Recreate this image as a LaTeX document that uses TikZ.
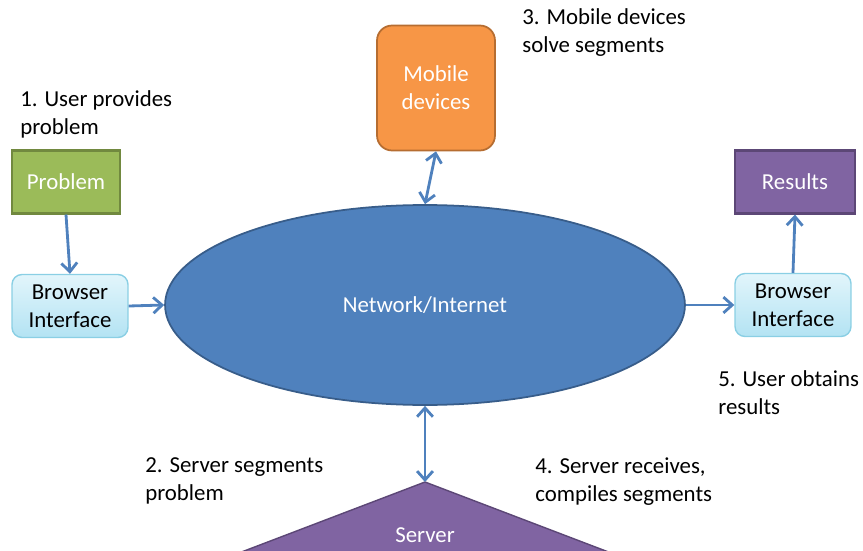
\documentclass[tikz,border=0pt]{standalone}
\usepackage{fontspec}
\setmainfont{Carlito}
\usetikzlibrary{calc}
\usetikzlibrary{arrows.meta}
\usetikzlibrary{shapes.geometric}

\definecolor{probgreen}{HTML}{9BBB59}
\definecolor{probgreenline}{HTML}{71893F}
\definecolor{moborange}{HTML}{F79646}
\definecolor{moborangeline}{HTML}{B66D31}
\definecolor{respurple}{HTML}{8064A2}
\definecolor{respurpleline}{HTML}{5C4776}
\definecolor{netblue}{HTML}{4F81BD}
\definecolor{netblueline}{HTML}{385D8A}
\definecolor{browsertop}{HTML}{E2F5FB}
\definecolor{browserbot}{HTML}{B3E3F3}
\definecolor{browserline}{HTML}{8ACFE4}

\begin{document}
\begin{tikzpicture}[x=0.02cm,y=-0.02cm,
  font=\fontsize{13}{16}\selectfont,
  link/.style={draw=netblue,line width=1.6pt,-{Straight Barb[length=5pt,width=9pt]}},
  twolink/.style={link,{Straight Barb[length=5pt,width=9pt]}-{Straight Barb[length=5pt,width=9pt]}},
  browser/.style={draw=browserline,line width=0.8pt,rounded corners=0.2cm,
    top color=browsertop,bottom color=browserbot,
    minimum width=2.32cm,minimum height=1.26cm,align=center,inner sep=0pt},
  note/.style={anchor=north west,align=left,inner sep=0pt}]
\useasboundingbox (0,0) rectangle (863,551);
\clip (0,0) rectangle (863,551);

% Boxes
\node[draw=probgreenline,fill=probgreen,line width=1.2pt,text=white,
  minimum width=2.16cm,minimum height=1.26cm] (problem) at (66,182) {Problem};
\node[browser] (browserL) at (70,306) {Browser\\Interface};
\node[ellipse,draw=netblueline,fill=netblue,line width=1pt,text=white,
  minimum width=10.4cm,minimum height=4cm,inner sep=0pt] (net) at (425,305) {Network/Internet};
\node[draw=moborangeline,fill=moborange,line width=1pt,rounded corners=0.3cm,text=white,
  minimum width=2.36cm,minimum height=2.5cm,align=center] (mobile) at (436,88) {Mobile\\devices};
\node[draw=respurpleline,fill=respurple,line width=1.2pt,text=white,
  minimum width=2.4cm,minimum height=1.26cm] (results) at (795,182) {Results};
\node[browser] (browserR) at (793,305) {Browser\\Interface};

% Server
\fill[respurple,draw=respurpleline,line width=0.8pt] (425,482) -- (155,585) -- (695,585) -- cycle;
\coordinate (serverTop) at (425,482);
\node[text=white] (server) at (425,535) {Server};

% Arrows
\draw[link] (problem.south) -- (browserL.north);
\draw[link] (browserL.east) -- (net.west);
\draw[link] (net.east) -- (browserR.west);
\draw[link] (browserR.north) -- (results.south);
\draw[twolink] (mobile.south) -- (net.north);
\draw[twolink] (net.south) -- (serverTop);

% Steps
\node[note] (step1) at (20,90) {1. User provides\\problem};
\node[note] (step2) at (145,457) {2. Server segments\\problem};
\node[note] (step3) at (522,8) {3. Mobile devices\\solve segments};
\node[note] (step4) at (535,457) {4. Server receives,\\compiles segments};
\node[note] (step5) at (718,370) {5. User obtains\\results};
\end{tikzpicture}
\end{document}
